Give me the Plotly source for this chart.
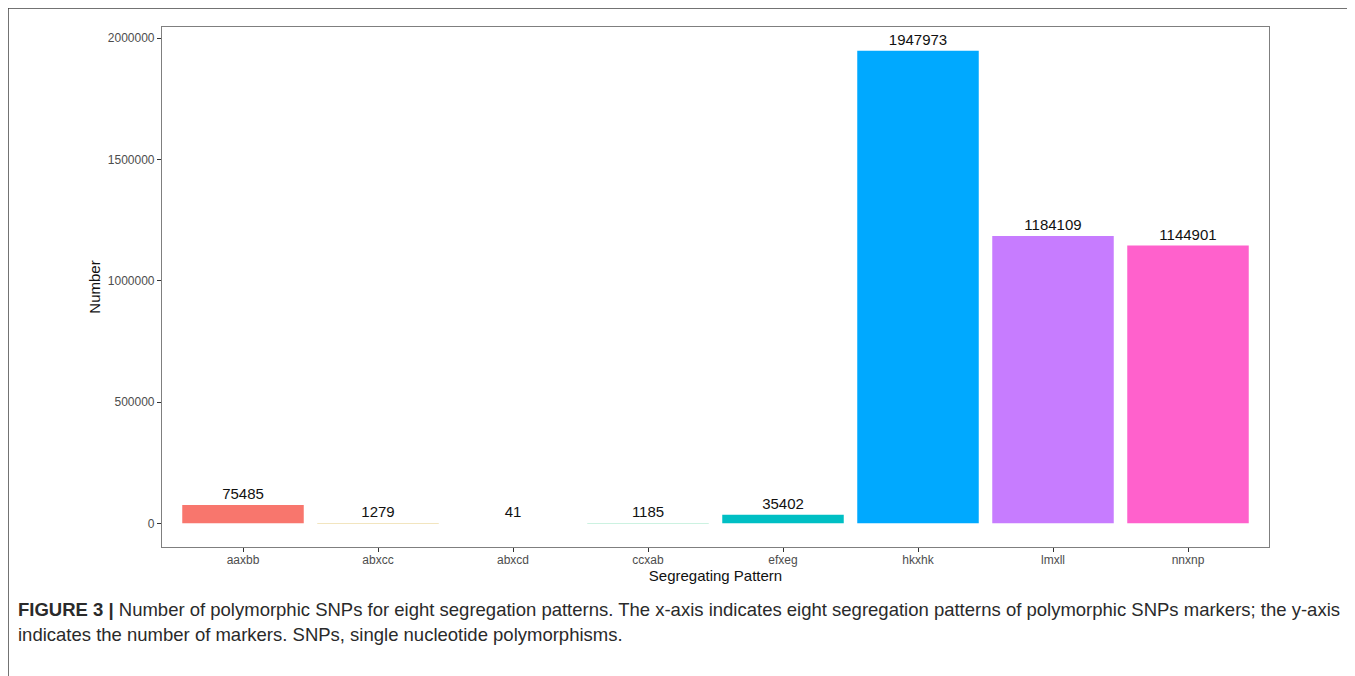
import plotly.graph_objects as go

categories = ["aaxbb", "abxcc", "abxcd", "ccxab", "efxeg", "hkxhk", "lmxll", "nnxnp"]
counts = [75485, 1279, 41, 1185, 35402, 1947973, 1184109, 1144901]
colors = ["#F8766D", "#CD9600", "#7CAE00", "#00BE67", "#00BFC4", "#00A9FF", "#C77CFF", "#FF61CC"]
# sub-pixel bars render faintly in the reference
bar_opacity = [1, 0.25, 0, 0.2, 1, 1, 1, 1]
y_ticks = [0, 500000, 1000000, 1500000, 2000000]

# the page body adds an 8px offset; work in screen pixels and subtract it
OFF = 8
W, H = 1355 - OFF, 676 - OFF
L, R, T, B = 162 - OFF, 1269 - OFF, 27 - OFF, 547 - OFF

fig = go.Figure()
fig.add_trace(go.Bar(
    x=categories, y=counts, marker=dict(color=colors, opacity=bar_opacity, line=dict(width=0)),
    width=0.9, text=[str(v) for v in counts], textposition="outside",
    textfont=dict(size=15, color="#111111", family="Liberation Sans"),
    cliponaxis=False, showlegend=False,
))

ymax = max(counts)
fig.update_layout(
    width=W, height=H,
    margin=dict(l=L, r=W - R, t=T, b=H - B, autoexpand=False),
    paper_bgcolor="white", plot_bgcolor="white",
    font=dict(family="Liberation Sans", color="#111111"),
    bargap=0.1,
)
fig.update_xaxes(
    range=[-0.6, 7.6], showgrid=False, showline=True, mirror=True,
    linecolor="#7F7F7F", linewidth=1.2, ticks="outside", ticklen=4, tickwidth=1.2,
    tickcolor="#333333", tickfont=dict(size=12, color="#4D4D4D"), ticklabelstandoff=-3,
    title=dict(text="Segregating Pattern", font=dict(size=15, color="#111111"), standoff=4),
    automargin=False, fixedrange=True,
)
fig.update_yaxes(
    range=[-0.05 * ymax, 1.05 * ymax], showgrid=False, zeroline=False, showline=True, mirror=True,
    linecolor="#7F7F7F", linewidth=1.2, ticks="outside", ticklen=4, tickwidth=1.2,
    tickcolor="#333333", tickfont=dict(size=12, color="#4D4D4D"),
    tickvals=y_ticks, ticktext=[str(v) for v in y_ticks],
    title=dict(text="Number", font=dict(size=15, color="#111111"), standoff=3),
    automargin=False, fixedrange=True,
)

def px_x(px):
    return (px - OFF - L) / (R - L)

def px_y(py):
    return (B - (py - OFF)) / (B - T)

# outer figure frame (top and left edges)
fig.add_shape(type="line", xref="paper", yref="paper",
              x0=px_x(8), y0=px_y(8), x1=px_x(1370), y1=px_y(8),
              line=dict(color="#444444", width=1.5))
fig.add_shape(type="line", xref="paper", yref="paper",
              x0=px_x(8), y0=px_y(8), x1=px_x(8), y1=px_y(690),
              line=dict(color="#444444", width=1.5))

cap1 = ("<b>FIGURE 3 |</b> Number of polymorphic SNPs for eight segregation patterns. "
        "The x-axis indicates eight segregation patterns of polymorphic SNPs markers; the y-axis")
cap2 = "indicates the number of markers. SNPs, single nucleotide polymorphisms."
for txt, yy in [(cap1, 609), (cap2, 634)]:
    fig.add_annotation(text=txt, xref="paper", yref="paper", x=px_x(16), y=px_y(yy),
                       xanchor="left", yanchor="middle", showarrow=False,
                       font=dict(size=18.5, color="#2a2a2a", family="Liberation Sans"))

fig.write_html("out.html")
